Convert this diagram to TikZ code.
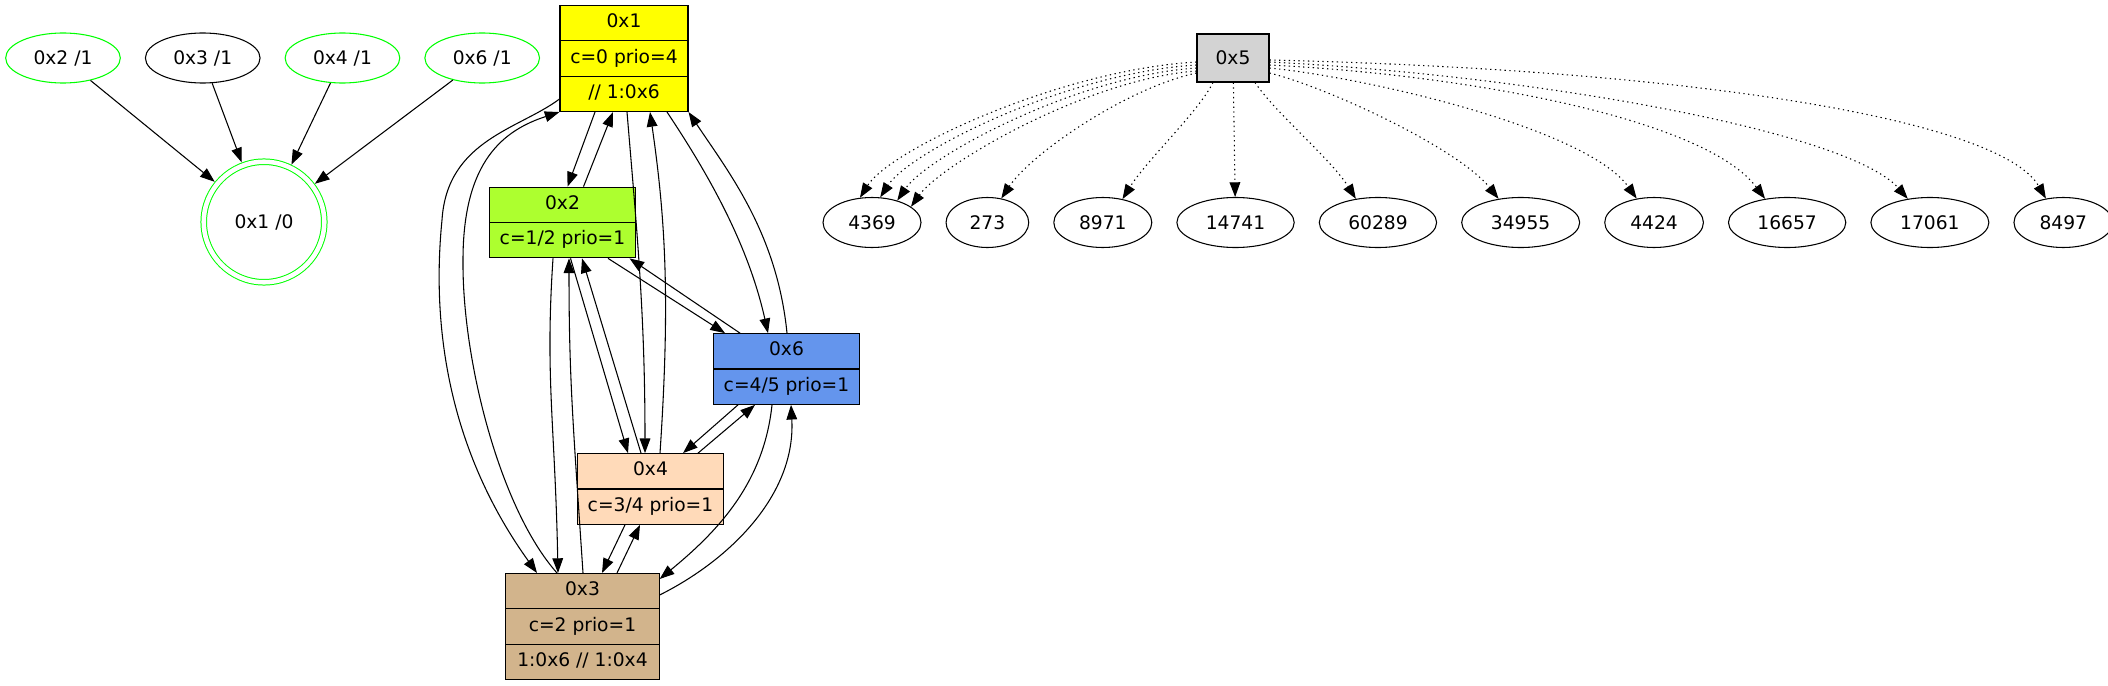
\documentclass[tikz,border=0pt]{standalone}
\usepackage{fontspec}
\setmainfont{DejaVu Sans}
\usepackage{tikz}
\usetikzlibrary{
  arrows.meta,
  calc,
  positioning,
  shapes.geometric,
  shapes.multipart,
}
\definecolor{x11green}{RGB}{0, 255, 0}
\definecolor{x11yellow}{RGB}{255, 255, 0}
\definecolor{x11greenyellow}{RGB}{173, 255, 47}
\definecolor{x11cornflower}{RGB}{100, 149, 237}
\definecolor{x11peach}{RGB}{255, 218, 185}
\definecolor{x11tan}{RGB}{210, 180, 140}
\definecolor{x11gray}{RGB}{211, 211, 211}
\tikzstyle{flow} = [
  -{Triangle[length=11pt,width=8pt]},
  line width=0.8pt,
]
\tikzstyle{hit} = [
  flow,
  dash pattern=on 1pt off 2.6pt,
]
\tikzstyle{rec} = [
  rectangle split,
  draw,
  line width=0.8pt,
  inner xsep=0pt,
  inner ysep=4.35pt,
]
\tikzstyle{ref} = [
  ellipse,
  draw,
  line width=0.8pt,
  minimum width=86pt,
  minimum height=37.5pt,
  inner sep=0pt,
]
\tikzstyle{leaf} = [
  ellipse,
  draw,
  line width=0.8pt,
  minimum height=37.5pt,
  inner sep=0pt,
]
\tikzstyle{final} = [
  circle,
  draw=x11green,
  double,
  double distance=3.4pt,
  line width=0.75pt,
  minimum size=90.4pt,
  inner sep=0pt,
  outer sep=2.5pt,
]

\begin{document}
\begin{tikzpicture}[x=0.75pt,y=-0.75pt,font=\fontsize{14pt}{17pt}\selectfont]
			\useasboundingbox (0,0) rectangle (2108,685);

			\node[ref,draw=x11green] (ref2) at (63,58) {0x2 /1};
			\node[ref] (ref3) [right=18pt of ref2] {0x3 /1};
			\node[ref,draw=x11green] (ref4) [right=18pt of ref3] {0x4 /1};
			\node[ref,draw=x11green] (ref6) [right=18pt of ref4] {0x6 /1};
			\node[final] (ref1) at (264,222) {0x1 /0};

			\draw[flow] (ref2) -- (ref1);
			\draw[flow] (ref3) -- (ref1);
			\draw[flow] (ref4) -- (ref1);
			\draw[flow] (ref6) -- (ref1);

			\node[rec,rectangle split parts=3,fill=x11yellow,minimum width=96pt] (blk1) at (624,58.5) {\strut 0x1\nodepart{two}\strut c=0 prio=4\nodepart{three}\strut // 1:0x6};
			\node[rec,rectangle split parts=2,fill=x11greenyellow,minimum width=110pt] (blk2) at (562.5,222.5) {\strut 0x2\nodepart{two}\strut c=1/2 prio=1};
			\node[rec,rectangle split parts=2,fill=x11cornflower,minimum width=110pt] (blk6) at (786.5,369) {\strut 0x6\nodepart{two}\strut c=4/5 prio=1};
			\node[rec,rectangle split parts=2,fill=x11peach,minimum width=110pt] (blk4) at (650.5,489) {\strut 0x4\nodepart{two}\strut c=3/4 prio=1};
			\node[rec,rectangle split parts=3,fill=x11tan,minimum width=115pt] (blk3) at (582.5,626.5) {\strut 0x3\nodepart{two}\strut c=2 prio=1\nodepart{three}\strut 1:0x6 // 1:0x4};

			\draw[flow] ($(blk1.south)+(-29,0)$) -- ($(blk2.north)+(5,0)$);
			\draw[flow] ($(blk2.north)+(21,0)$) -- ($(blk1.south)+(-11,0)$);
			\draw[flow] ($(blk1.south)+(3,0)$) .. controls +(10,120) and +(0,-140) .. ($(blk4.north)+(-5.5,0)$);
			\draw[flow] ($(blk4.north)+(9.5,0)$) .. controls +(10,-150) and +(16,110) .. ($(blk1.south)+(26,0)$);
			\draw[flow] ($(blk1.south)+(43,0)$) .. controls +(40,60) and +(-20,-90) .. ($(blk6.north)+(-18.5,0)$);
			\draw[flow] ($(blk6.north)+(0.5,0)$) .. controls +(-10,-100) and +(40,60) .. (blk1.south east);
			\draw[flow] ($(blk1.south west)+(0,-13)$) .. controls +(-40,30) and +(5,-80) .. (442,220) .. controls +(-12,120) and +(-82,-114) .. ($(blk3.north)+(-45.5,0)$);
			\draw[flow] ($(blk3.north)+(-25.5,0)$) .. controls +(-57,-64) and +(-1,100) .. (463,260) .. controls +(0,-100) and +(-55,18) .. (blk1.south west);

			\draw[flow] ($(blk2.south)+(-9.5,0)$) .. controls +(-8,120) and +(-3,-150) .. ($(blk3.north)+(-24.5,0)$);
			\draw[flow] ($(blk3.north)+(0.5,0)$) .. controls +(-10,-150) and +(0,120) .. ($(blk2.south)+(6.5,0)$);
			\draw[flow] ($(blk2.south)+(8,0)$) -- ($(blk4.north)+(-22.5,0)$);
			\draw[flow] ($(blk4.north)+(-9.5,0)$) -- ($(blk2.south)+(19.5,0)$);
			\draw[flow] ($(blk2.south)+(45.5,0)$) -- ($(blk6.north)+(-61.5,0)$);
			\draw[flow] ($(blk6.north)+(-46.5,0)$) -- ($(blk2.south)+(67,0)$);

			\draw[flow] ($(blk6.south)+(-48.5,0)$) -- ($(blk4.north)+(32.5,0)$);
			\draw[flow] ($(blk4.north)+(47.5,0)$) -- ($(blk6.south)+(-31.5,0)$);
			\draw[flow] ($(blk6.south)+(-14.5,0)$) .. controls +(-8,76) and +(61,-50) .. ($(blk3.north east)+(0,6)$);
			\draw[flow] ($(blk3.north east)+(0,22)$) .. controls +(70,-35) and +(5,90) .. ($(blk6.south)+(4.5,0)$);
			\draw[flow] ($(blk4.south)+(-25.5,0)$) -- ($(blk3.north)+(19.5,0)$);
			\draw[flow] ($(blk3.north)+(34.5,0)$) -- ($(blk4.south)+(-10.5,0)$);

			\node[rectangle,draw,line width=0.8pt,fill=x11gray,minimum width=54pt,minimum height=36pt] (blk5) at (1233,58) {0x5};

			\node[leaf,minimum width=73.5pt] (h1) at (872,222.5) {4369};
			\node[leaf,minimum width=62pt] (h2) [right=18pt of h1] {273};
			\node[leaf,minimum width=73.5pt] (h3) [right=18pt of h2] {8971};
			\node[leaf,minimum width=88pt] (h4) [right=18pt of h3] {14741};
			\node[leaf,minimum width=88pt] (h5) [right=18pt of h4] {60289};
			\node[leaf,minimum width=88.5pt] (h6) [right=18pt of h5] {34955};
			\node[leaf,minimum width=74pt] (h7) [right=18pt of h6] {4424};
			\node[leaf,minimum width=88pt] (h8) [right=18pt of h7] {16657};
			\node[leaf,minimum width=88.5pt] (h9) [right=18pt of h8] {17061};
			\node[leaf,minimum width=74pt] (h10) [right=18pt of h9] {8497};

			\draw[hit] ($(blk5.west)+(0,4)$) .. controls +(-137,8) and +(30,-48) .. (h1.116);
			\draw[hit] ($(blk5.west)+(0,7)$) .. controls +(-130,8) and +(30,-46) .. (h1.72);
			\draw[hit] ($(blk5.west)+(0,10)$) .. controls +(-120,8) and +(30,-44) .. (h1.41);
			\draw[hit] ($(blk5.west)+(0,13)$) .. controls +(-110,8) and +(30,-42) .. (h1.22);
			\draw[hit] ($(blk5.west)+(0,15)$) .. controls +(-70,15) and +(30,-45) .. (h2.60);
			\draw[hit] ($(blk5.south)+(-20,0)$) .. controls +(-15,30) and +(25,-40) .. (h3.50);
			\draw[hit] (blk5) -- (h4);
			\draw[hit] ($(blk5.south)+(22,0)$) .. controls +(20,30) and +(-25,-40) .. (h5.133);
			\draw[hit] ($(blk5.east)+(0,15)$) .. controls +(60,15) and +(-40,-50) .. (h6.133);
			\draw[hit] ($(blk5.east)+(0,10)$) .. controls +(100,10) and +(-50,-70) .. (h7.126);
			\draw[hit] ($(blk5.east)+(0,7)$) .. controls +(200,10) and +(-60,-80) .. (h8.133);
			\draw[hit] ($(blk5.east)+(0,4)$) .. controls +(261,13) and +(-60,-68) .. (h9.133);
			\draw[hit] ($(blk5.east)+(0,2)$) .. controls +(430,10) and +(-45,-78) .. (h10.126);
		\end{tikzpicture}
\end{document}
